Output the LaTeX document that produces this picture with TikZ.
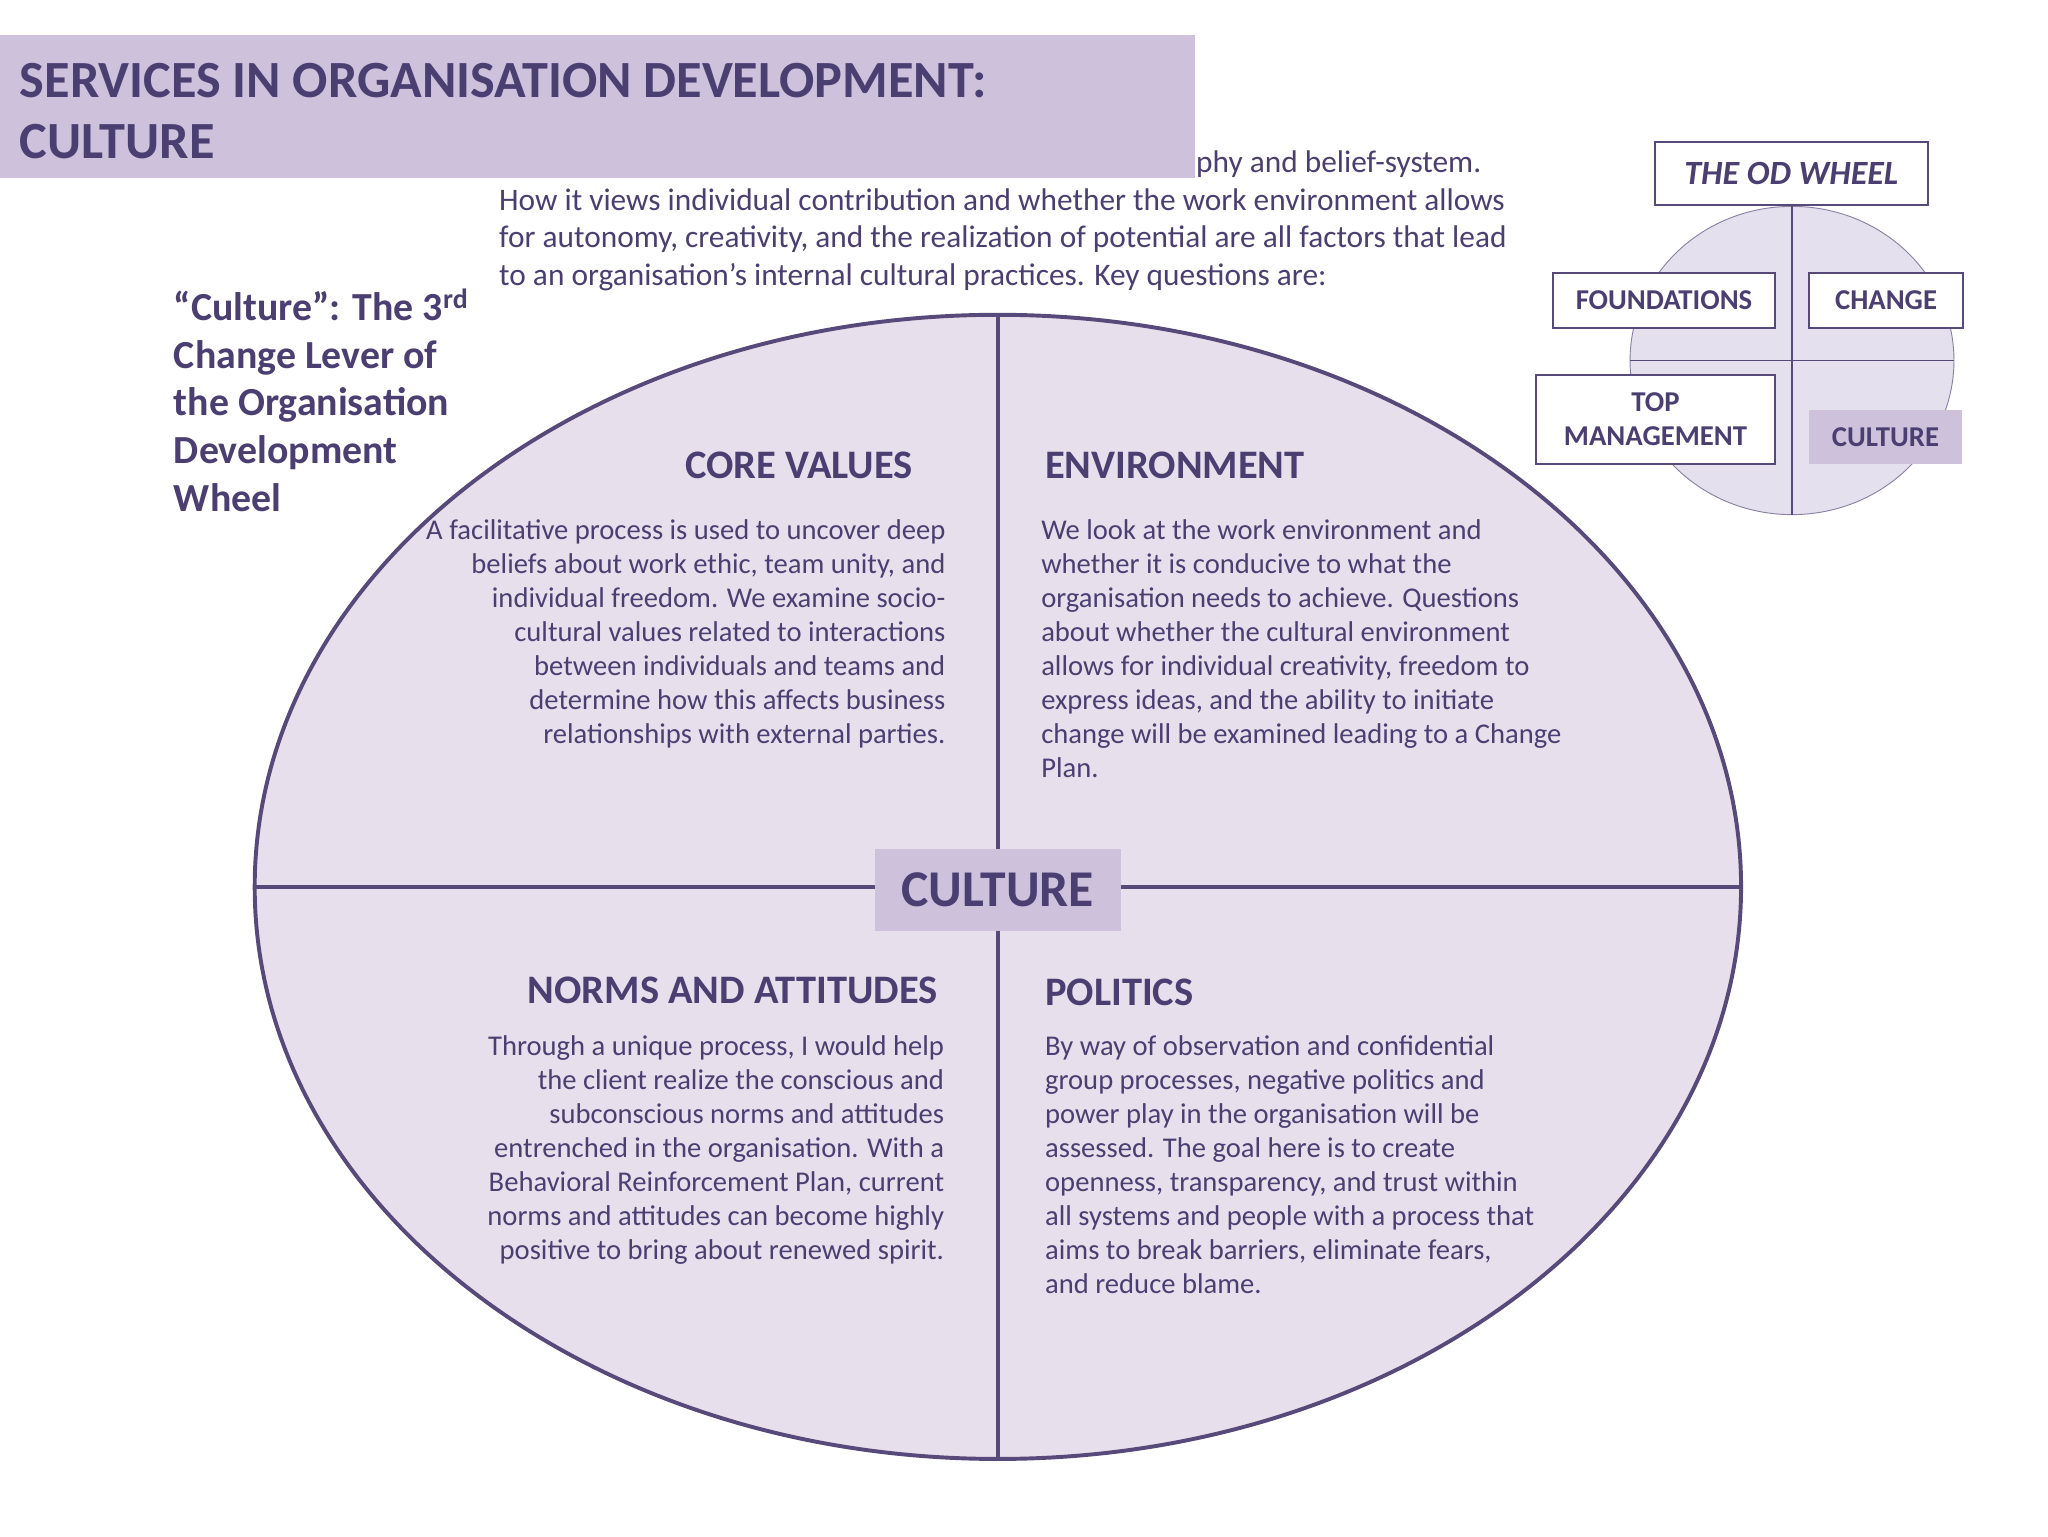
\documentclass[tikz,border=0pt]{standalone}
\usepackage{fontspec}
\setmainfont{Carlito}
\definecolor{ink}{HTML}{4B3F72}
\definecolor{titlebg}{HTML}{CDC1DB}
\definecolor{ellfill}{HTML}{E7DFEC}
\definecolor{edge}{HTML}{574A7A}
\definecolor{wheelfill}{HTML}{E4E0EE}
\begin{document}
\begin{tikzpicture}[x=1pt,y=-1pt,
  body/.style={text=ink,font=\fontsize{24}{26}\selectfont,inner sep=0pt},
  qbody/.style={text=ink,font=\fontsize{21.9}{26}\selectfont,inner sep=0pt},
  head/.style={text=ink,font=\fontsize{31}{34}\selectfont\bfseries,inner sep=0pt},
  wbox/.style={draw=edge,line width=1.5pt,fill=white,text=ink,font=\fontsize{22}{25}\selectfont\bfseries,align=center,inner sep=0pt}]
\useasboundingbox (0,0) rectangle (1568,1176);
\fill[white] (0,0) rectangle (1568,1176);
% intro text
\node[body,anchor=base west] (l1) at (903,132) {ophy and belief-system.};
\node[body,anchor=north west,align=left] (intro) at (382,144) {How it views individual contribution and whether the work environment allows\\[3pt]for autonomy, creativity, and the realization of potential are all factors that lead\\[3pt]to an organisation’s internal cultural practices. Key questions are:};
% title
\fill[titlebg] (0,27) rectangle (915,136);
\node[text=ink,font=\fontsize{40}{47}\selectfont\bfseries,anchor=north west,align=left,inner sep=0pt] (title) at (15,48) {SERVICES IN ORGANISATION DEVELOPMENT:\\CULTURE};
% left title
\node[text=ink,font=\fontsize{30.5}{36.6}\selectfont\bfseries,anchor=north west,align=left,inner sep=0pt] (lever) at (133,221) {“Culture”: The 3\textsuperscript{rd}\\Change Lever of\\the Organisation\\Development\\Wheel};
% big ellipse
\filldraw[fill=ellfill,draw=edge,line width=3pt] (764,679) ellipse [x radius=569,y radius=438];
\draw[edge,line width=3pt] (764,241) -- (764,1117);
\draw[edge,line width=3pt] (195,679) -- (1333,679);
\node[fill=titlebg,minimum width=188,minimum height=63,text=ink,font=\fontsize{39.5}{42}\selectfont\bfseries,inner sep=0pt] (cult) at (764,681.5) {CULTURE};
% quadrants
\node[head,anchor=base east] (cv) at (699,366) {CORE VALUES};
\node[qbody,anchor=north east,align=right] (cvt) at (724,398) {A facilitative process is used to uncover deep\\beliefs about work ethic, team unity, and\\individual freedom. We examine socio-\\cultural values related to interactions\\between individuals and teams and\\determine how this affects business\\relationships with external parties.};
\node[head,anchor=base west] (env) at (800,366) {ENVIRONMENT};
\node[qbody,anchor=north west,align=left] (envt) at (797,398) {We look at the work environment and\\whether it is conducive to what the\\organisation needs to achieve. Questions\\about whether the cultural environment\\allows for individual creativity, freedom to\\express ideas, and the ability to initiate\\change will be examined leading to a Change\\Plan.};
\node[head,anchor=base east] (na) at (718,768) {NORMS AND ATTITUDES};
\node[qbody,anchor=north east,align=right] (nat) at (723,793) {Through a unique process, I would help\\the client realize the conscious and\\subconscious norms and attitudes\\entrenched in the organisation. With a\\Behavioral Reinforcement Plan, current\\norms and attitudes can become highly\\positive to bring about renewed spirit.};
\node[head,anchor=base west] (pol) at (800,770) {POLITICS};
\node[qbody,anchor=north west,align=left] (polt) at (800,793) {By way of observation and confidential\\group processes, negative politics and\\power play in the organisation will be\\assessed. The goal here is to create\\openness, transparency, and trust within\\all systems and people with a process that\\aims to break barriers, eliminate fears,\\and reduce blame.};
% OD wheel
\filldraw[fill=wheelfill,draw=edge!70,line width=0.7pt] (1372,276) ellipse [x radius=124,y radius=118];
\draw[edge,line width=1.5pt] (1372,157) -- (1372,394);
\draw[edge,line width=1.5pt] (1248,276) -- (1496,276);
\node[wbox,minimum width=209,minimum height=48,font=\fontsize{26}{30}\selectfont\bfseries\itshape] (odw) at (1371.5,133) {THE OD WHEEL};
\node[wbox,minimum width=170,minimum height=42] (fnd) at (1274,230) {FOUNDATIONS};
\node[wbox,minimum width=118,minimum height=42] (chg) at (1444,230) {CHANGE};
\node[wbox,minimum width=183,minimum height=68] (top) at (1267.5,321) {TOP\\[1pt]MANAGEMENT};
\node[fill=titlebg,minimum width=117,minimum height=41,text=ink,font=\fontsize{22}{25}\selectfont\bfseries,inner sep=0pt] (cul2) at (1443.5,334.5) {CULTURE};
\end{tikzpicture}
\end{document}
